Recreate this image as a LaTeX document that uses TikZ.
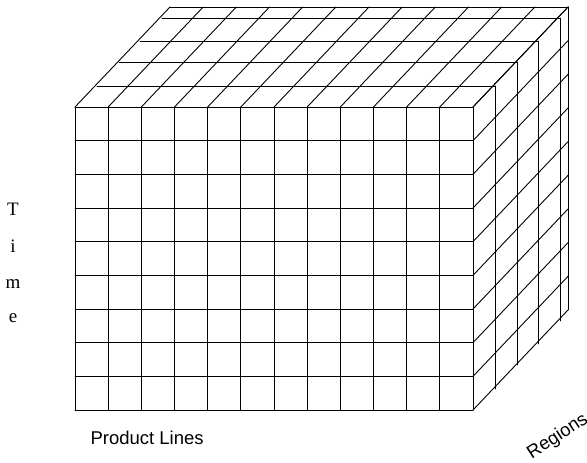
\documentclass[tikz,border=0pt]{standalone}
\usepackage{fontspec}
\setmainfont{Liberation Serif}
\newfontfamily\labelsans{Liberation Sans}
\begin{document}
\begin{tikzpicture}[x=1pt,y=-1pt,
  grid/.style={line width=0.9pt, black, line cap=round},
  timelbl/.style={font=\fontsize{19}{19}\selectfont, anchor=base},
  axislbl/.style={font=\labelsans\fontsize{18.5}{18.5}\selectfont}]
\useasboundingbox (0,0) rectangle (587,463);
\fill[white] (0,0) rectangle (587,463);
% front face
\foreach \i in {0,...,12}
  \draw[grid] ({75+\i*398/12},107) -- ({75+\i*398/12},410);
\foreach \j in {0,...,9}
  \draw[grid] (75,{107+\j*303/9}) -- (473,{107+\j*303/9});
% top face
\foreach \i in {0,...,12}
  \draw[grid] ({75+\i*398/12},107) -- ({170+\i*398/12},7);
\foreach \a/\b in {22/21,44/45,65/66,87/89,95/100}
  \draw[grid] ({75+\a},{107-\b}) -- ({473+\a},{107-\b});
% right face
\foreach \a/\b in {22/21,44/45,65/66,87/89,95/100}
  \draw[grid] ({473+\a},{107-\b}) -- ({473+\a},{410-\b});
\foreach \j in {0,...,9}
  \draw[grid] (473,{107+\j*303/9}) -- (568,{7+\j*303/9});
% labels
\node[timelbl] (tT) at (13,215) {T};
\node[timelbl] (ti) at (13,252) {i};
\node[timelbl] (tm) at (13,288) {m};
\node[timelbl] (te) at (13,322) {e};
\node[axislbl, anchor=base west] (pl) at (87,444) {Product Lines};
\node[axislbl, anchor=base west, rotate=33] (rg) at (529,461) {Regions};
\end{tikzpicture}
\end{document}
